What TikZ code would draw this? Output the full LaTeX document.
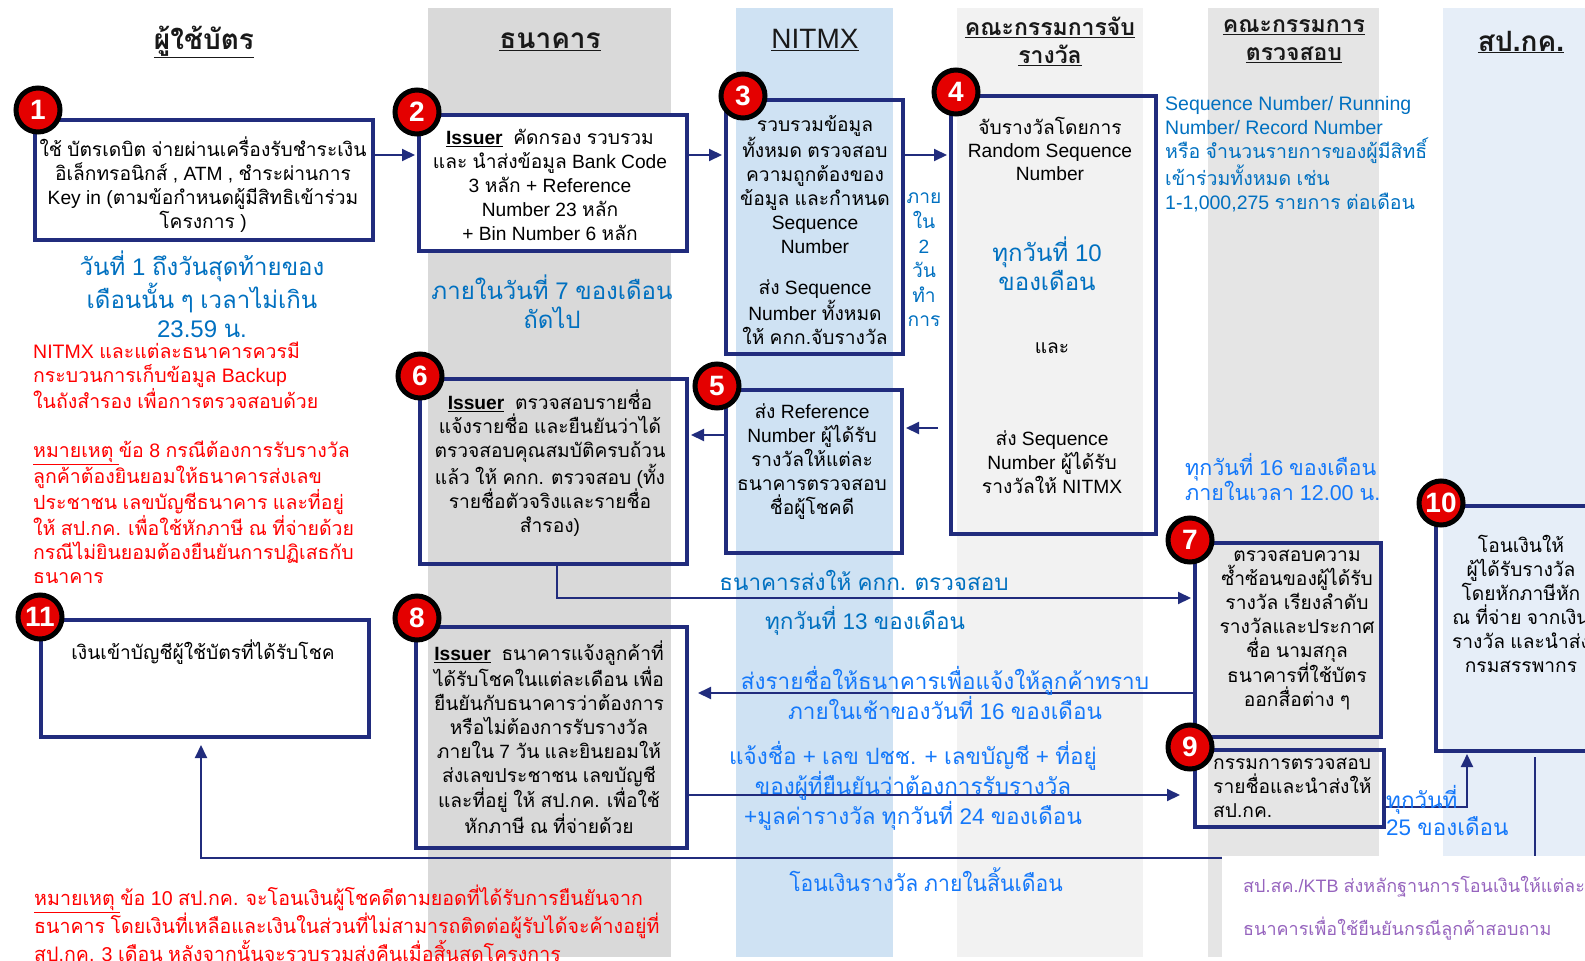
\documentclass[tikz,border=0pt]{standalone}
\usepackage{fontspec}
\setmainfont{Liberation Sans}
\newfontfamily\latinfont{Liberation Sans}
\newfontfamily\thaifont[Script=Thai]{Loma}
\usetikzlibrary{arrows.meta}
\XeTeXinterchartokenstate=1
\newXeTeXintercharclass\ThaiCls
\newcount\tcnt
\tcnt="0E00
\loop
  \XeTeXcharclass\tcnt=\ThaiCls
  \ifnum\tcnt<"0E7F \advance\tcnt by 1
\repeat
\XeTeXinterchartoks 0 \ThaiCls = {\thaifont}
\XeTeXinterchartoks 4095 \ThaiCls = {\thaifont}
\XeTeXinterchartoks \ThaiCls 0 = {\latinfont}
\XeTeXinterchartoks \ThaiCls 4095 = {\latinfont}
\definecolor{navy}{RGB}{33,44,125}
\definecolor{colgray}{RGB}{217,217,217}
\definecolor{colblue}{RGB}{207,226,243}
\definecolor{collight}{RGB}{242,242,242}
\definecolor{colgrayb}{RGB}{229,229,229}
\definecolor{colblueb}{RGB}{230,238,248}
\definecolor{txtblue}{RGB}{0,112,192}
\definecolor{brblue}{RGB}{20,120,250}
\definecolor{badgered}{RGB}{228,0,0}
\definecolor{purp}{RGB}{150,100,190}
\definecolor{headc}{RGB}{25,25,25}
\begin{document}
\begin{tikzpicture}[x=1pt,y=-1pt,
  box/.style={draw=navy,line width=4pt,inner sep=0pt,anchor=north west},
  badge/.style={circle,fill=badgered,draw=black,line width=5pt,minimum size=44pt,inner sep=0pt,text=white,font=\fontsize{28}{28}\selectfont\bfseries},
  arr/.style={draw=navy,line width=2pt,-{Triangle[length=13pt,width=12pt]}},
  body/.style={font=\fontsize{19.2}{24}\selectfont,align=center,inner sep=0pt,text=black},
  head/.style={font=\fontsize{28}{34}\selectfont\bfseries,align=center,inner sep=0pt,text=headc},
  bigblue/.style={font=\fontsize{24}{29}\selectfont,align=center,inner sep=0pt,text=txtblue},
  lbl/.style={font=\fontsize{22.5}{27}\selectfont,align=center,inner sep=0pt},
  redt/.style={font=\fontsize{19.5}{24.3}\selectfont,align=left,inner sep=0pt,text=red,anchor=west}
]
\useasboundingbox (0,0) rectangle (1585,961);
\clip (0,0) rectangle (1585,961);
% columns
\fill[colgray] (428,8) rectangle (671,957);
\fill[colblue] (736,8) rectangle (893,957);
\fill[collight] (957,8) rectangle (1143,957);
\fill[colgrayb] (1208,8) rectangle (1379,957);
\fill[colblueb] (1443,8) rectangle (1585,957);
% headers
\node[head] (h1) at (204,42) {\underline{ผู้ใช้บัตร}};
\node[head] (h2) at (550,42) {\underline{ธนาคาร}};
\node[head,font=\fontsize{28}{34}\selectfont] (h3) at (815,40) {\underline{NITMX}};
\node[head,font=\fontsize{23}{28}\selectfont\bfseries] (h4) at (1050,41) {\underline{คณะกรรมการจับ}\\\underline{รางวัล}};
\node[head,font=\fontsize{23}{28}\selectfont\bfseries] (h5) at (1294,41) {\underline{คณะกรรมการ}\\\underline{ตรวจสอบ}};
\node[head] (h6) at (1521,42) {\underline{สป.กค.}};
% boxes
\node[box,minimum width=338pt,minimum height=120pt] (b1) at (33,118) {};
\node[box,fill=white,minimum width=268pt,minimum height=136pt] (b2) at (417,113) {};
\node[box,minimum width=177pt,minimum height=254pt] (b3) at (724,98) {};
\node[box,minimum width=205pt,minimum height=438pt] (b4) at (949,94) {};
\node[box,minimum width=176pt,minimum height=163pt] (b5) at (724,388) {};
\node[box,minimum width=267pt,minimum height=185pt] (b6) at (418,377) {};
\node[box,minimum width=186pt,minimum height=194pt] (b7) at (1193,541) {};
\node[box,minimum width=271pt,minimum height=221pt] (b8) at (414,625) {};
\node[box,minimum width=189pt,minimum height=77pt] (b9) at (1193,748) {};
\node[box,minimum width=260pt,minimum height=245pt] (b10) at (1434,504) {};
\node[box,minimum width=328pt,minimum height=117pt] (b11) at (39,618) {};
% connectors
\coordinate (L155) at (0,155);
\draw[arr,shorten >=2pt] (b1.east |- L155) -- (b2.west |- L155);
\draw[arr,shorten >=2pt] (b2.east |- L155) -- (b3.west |- L155);
\draw[arr,shorten >=2pt] (b3.east |- L155) -- (b4.west |- L155);
\coordinate (c45) at (938,428);
\draw[arr,shorten >=2pt] (c45) -- (b5.east |- c45);
\coordinate (L435) at (0,435);
\draw[arr,shorten >=2pt] (b5.west |- L435) -- (b6.east |- L435);
\coordinate (v6) at (557,598);
\draw[arr,shorten >=2pt] (b6.south -| v6) |- (b7.west |- v6);
\coordinate (L693) at (0,693);
\draw[arr,shorten >=9pt] (b7.west |- L693) -- (b8.east |- L693);
\coordinate (L795) at (0,795);
\draw[arr,shorten >=13pt] (b8.east |- L795) -- (b9.west |- L795);
\coordinate (v9) at (1467,807);
\draw[arr,shorten >=1pt] (b9.east |- v9) -| (b10.south -| v9);
\coordinate (c10) at (1535,757);
\coordinate (v11) at (201,858);
\draw[arr,shorten >=6pt] (c10) |- (v11) -- (b11.south -| v11);
% white area for purple note
\node[fill=white,inner sep=0pt,minimum width=363pt,minimum height=106pt,anchor=north west] (pcover) at (1222,856) {};
% badges
\node[badge] (n1) at (38,110) {1};
\node[badge] (n2) at (417,112) {2};
\node[badge] (n3) at (743,96) {3};
\node[badge] (n4) at (956,92) {4};
\node[badge] (n5) at (717,386) {5};
\node[badge] (n6) at (420,376) {6};
\node[badge] (n7) at (1190,540) {7};
\node[badge] (n8) at (417,618) {8};
\node[badge] (n9) at (1190,747) {9};
\node[badge] (n10) at (1441,503) {10};
\node[badge] (n11) at (40,617) {11};
% box texts
\node[body] (t1) at (203,185) {ใช้ บัตรเดบิต จ่ายผ่านเครื่องรับชำระเงิน\\อิเล็กทรอนิกส์ , ATM , ชำระผ่านการ\\Key in (ตามข้อกำหนดผู้มีสิทธิเข้าร่วม\\โครงการ )};
\node[body] (t2) at (550,185) {\underline{\textbf{Issuer}}\ \ คัดกรอง รวบรวม\\และ นำส่งข้อมูล Bank Code\\3 หลัก + Reference\\Number 23 หลัก\\+ Bin Number 6 หลัก};
\node[body] (t3) at (815,230) {รวบรวมข้อมูล\\ทั้งหมด ตรวจสอบ\\ความถูกต้องของ\\ข้อมูล และกำหนด\\Sequence\\Number\\[17pt]ส่ง Sequence\\Number ทั้งหมด\\ให้ คกก.จับรางวัล};
\node[body,font=\fontsize{19.2}{23}\selectfont] (t4a) at (1050,149) {จับรางวัลโดยการ\\Random Sequence\\Number};
\node[bigblue] (t4b) at (1047,264) {ทุกวันที่ 10\\ของเดือน};
\node[body] (t4c) at (1052,348) {และ};
\node[body] (t4d) at (1052,462) {ส่ง Sequence\\Number ผู้ได้รับ\\รางวัลให้ NITMX};
\node[body] (t5) at (812,462) {ส่ง Reference\\Number ผู้ได้รับ\\รางวัลให้แต่ละ\\ธนาคารตรวจสอบ\\ชื่อผู้โชคดี};
\node[body] (t6) at (550,463) {\underline{\textbf{Issuer}}\ \ ตรวจสอบรายชื่อ\\แจ้งรายชื่อ และยืนยันว่าได้\\ตรวจสอบคุณสมบัติครบถ้วน\\แล้ว ให้ คกก. ตรวจสอบ (ทั้ง\\รายชื่อตัวจริงและรายชื่อ\\สำรอง)};
\node[body] (t7) at (1297,630) {ตรวจสอบความ\\ซ้ำซ้อนของผู้ได้รับ\\รางวัล เรียงลำดับ\\รางวัลและประกาศ\\ชื่อ นามสกุล\\ธนาคารที่ใช้บัตร\\ออกสื่อต่าง ๆ};
\node[body] (t8) at (549,737) {\underline{\textbf{Issuer}}\ \ ธนาคารแจ้งลูกค้าที่\\ได้รับโชคในแต่ละเดือน เพื่อ\\ยืนยันกับธนาคารว่าต้องการ\\หรือไม่ต้องการรับรางวัล\\ภายใน 7 วัน และยินยอมให้\\ส่งเลขประชาชน เลขบัญชี\\และที่อยู่ ให้ สป.กค. เพื่อใช้\\หักภาษี ณ ที่จ่ายด้วย};
\node[body,align=left,anchor=west] (t9) at (1213,788) {กรรมการตรวจสอบ\\รายชื่อและนำส่งให้\\สป.กค.};
\node[body] (t10) at (1521,604) {โอนเงินให้\\ผู้ได้รับรางวัล\\โดยหักภาษีหัก\\ณ ที่จ่าย จากเงิน\\รางวัล และนำส่ง\\กรมสรรพากร};
\node[body] (t11) at (203,652) {เงินเข้าบัญชีผู้ใช้บัตรที่ได้รับโชค};
% annotations
\node[bigblue] (a1) at (202,294) {วันที่ 1 ถึงวันสุดท้ายของ\\เดือนนั้น ๆ เวลาไม่เกิน\\23.59 น.};
\node[bigblue] (a2) at (552,302) {ภายในวันที่ 7 ของเดือน\\ถัดไป};
\node[body,text=txtblue,font=\fontsize{19.2}{24.6}\selectfont] (a3) at (924,260) {ภาย\\ใน\\2\\วัน\\ทำ\\การ};
\node[body,text=txtblue,font=\fontsize{19.5}{24}\selectfont,align=left,anchor=west] (a4) at (1165,154) {Sequence Number/ Running\\Number/ Record Number\\หรือ จำนวนรายการของผู้มีสิทธิ์\\เข้าร่วมทั้งหมด เช่น\\1-1,000,275 รายการ ต่อเดือน};
\node[body,text=brblue,font=\fontsize{21.5}{25}\selectfont,align=left,anchor=west] (a5) at (1185,477) {ทุกวันที่ 16 ของเดือน\\ภายในเวลา 12.00 น.};
\node[redt] (r1) at (33,463) {NITMX และแต่ละธนาคารควรมี\\กระบวนการเก็บข้อมูล Backup\\ในถังสำรอง เพื่อการตรวจสอบด้วย\\[24.3pt]\underline{หมายเหตุ\ }ข้อ 8 กรณีต้องการรับรางวัล\\ลูกค้าต้องยินยอมให้ธนาคารส่งเลข\\ประชาชน เลขบัญชีธนาคาร และที่อยู่\\ให้ สป.กค. เพื่อใช้หักภาษี ณ ที่จ่ายด้วย\\กรณีไม่ยินยอมต้องยืนยันการปฏิเสธกับ\\ธนาคาร};
\node[lbl,text=txtblue] (l1) at (864,580) {ธนาคารส่งให้ คกก. ตรวจสอบ};
\node[lbl,text=txtblue] (l2) at (865,621) {ทุกวันที่ 13 ของเดือน};
\node[lbl,text=brblue] (l3) at (945,693) {ส่งรายชื่อให้ธนาคารเพื่อแจ้งให้ลูกค้าทราบ\\ภายในเช้าของวันที่ 16 ของเดือน};
\node[lbl,text=brblue,font=\fontsize{22.5}{28}\selectfont] (l4) at (913,786) {แจ้งชื่อ + เลข ปชช. + เลขบัญชี + ที่อยู่\\ของผู้ที่ยืนยันว่าต้องการรับรางวัล\\+มูลค่ารางวัล ทุกวันที่ 24 ของเดือน};
\node[lbl,text=brblue,align=left,anchor=west] (l5) at (1386,811) {ทุกวันที่\\25 ของเดือน};
\node[lbl,text=brblue] (l6) at (926,880) {\scalebox{0.94}[1]{โอนเงินรางวัล ภายในสิ้นเดือน}};
\node[inner sep=0pt,anchor=west,text=red] (r2) at (34,927) {\scalebox{0.98}[1]{\fontsize{20}{24}\selectfont\begin{tabular}{@{}l@{}}\underline{หมายเหตุ\ }ข้อ 10 สป.กค. จะโอนเงินผู้โชคดีตามยอดที่ได้รับการยืนยันจาก\\ธนาคาร โดยเงินที่เหลือและเงินในส่วนที่ไม่สามารถติดต่อผู้รับได้จะค้างอยู่ที่\\สป.กค. 3 เดือน หลังจากนั้นจะรวบรวมส่งคืนเมื่อสิ้นสุดโครงการ\end{tabular}}};
\node[inner sep=0pt,anchor=west,align=left,text=purp,font=\fontsize{18}{43}\selectfont] (p1) at (1243,908) {สป.สค./KTB ส่งหลักฐานการโอนเงินให้แต่ละ\\ธนาคารเพื่อใช้ยืนยันกรณีลูกค้าสอบถาม};
\end{tikzpicture}
\end{document}
